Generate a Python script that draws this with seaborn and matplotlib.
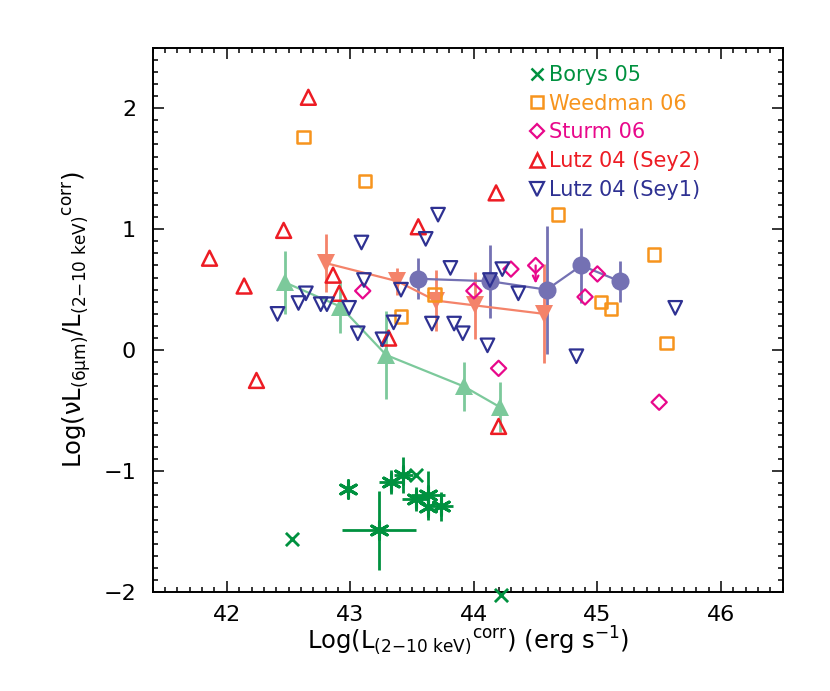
import matplotlib
matplotlib.use('Agg')
import matplotlib.pyplot as plt
import seaborn as sns
from matplotlib.lines import Line2D
from matplotlib.ticker import MultipleLocator

# Lutz 04 (Sey2) — открытые треугольники
sey2_x = [41.86, 42.14, 42.24, 42.46, 42.66, 42.86, 42.91, 43.31, 43.55, 44.18, 44.20]
sey2_y = [0.76, 0.53, -0.25, 0.99, 2.09, 0.62, 0.47, 0.10, 1.02, 1.30, -0.63]

# Lutz 04 (Sey1)
sey1_x = [42.41, 42.58, 42.64, 42.76, 42.81, 42.99, 43.06, 43.09, 43.11, 43.26, 43.35,
          43.41, 43.61, 43.66, 43.71, 43.81, 43.84, 43.91, 44.11, 44.13, 44.23, 44.36,
          44.83, 45.63]
sey1_y = [0.30, 0.39, 0.47, 0.38, 0.38, 0.35, 0.14, 0.89, 0.58, 0.09, 0.23,
          0.50, 0.92, 0.22, 1.12, 0.68, 0.22, 0.14, 0.04, 0.58, 0.67, 0.47,
          -0.05, 0.35]

# Weedman 06
weed_x = [42.62, 43.12, 43.41, 43.68, 44.68, 45.03, 45.11, 45.46, 45.56]
weed_y = [1.76, 1.40, 0.28, 0.46, 1.12, 0.40, 0.34, 0.79, 0.06]

# Sturm 06
sturm_x = [43.10, 44.00, 44.20, 44.30, 44.50, 44.90, 45.00, 45.50]
sturm_y = [0.49, 0.49, -0.15, 0.67, 0.70, 0.44, 0.63, -0.43]
sturm_lim_x = 44.50
sturm_lim_y = [0.70, 0.55]

# Borys 05: кресты и звездочки с ошибками
borys_x_cross = [42.53, 43.53, 44.22]
borys_y_cross = [-1.56, -1.03, -2.02]
borys_x = [42.98, 43.23, 43.33, 43.43, 43.53, 43.63, 43.63, 43.73]
borys_y = [-1.15, -1.49, -1.09, -1.03, -1.23, -1.20, -1.30, -1.29]
borys_xerr = [0.0, 0.30, 0.10, 0.08, 0.11, 0.14, 0.0, 0.10]
borys_yerr = [0.0, 0.33, 0.10, 0.15, 0.10, 0.20, 0.0, 0.12]

# Средние по бинам
bin_green_x = [42.47, 42.92, 43.29, 43.92, 44.21]
bin_green_y = [0.56, 0.36, -0.04, -0.30, -0.47]
bin_green_err = [0.26, 0.22, 0.36, 0.20, 0.21]

bin_salmon_x = [42.80, 43.38, 43.69, 44.01, 44.57]
bin_salmon_y = [0.72, 0.57, 0.41, 0.37, 0.30]
bin_salmon_err = [0.24, 0.11, 0.25, 0.28, 0.41]

bin_purple_x = [43.55, 44.13, 44.59, 44.87, 45.18]
bin_purple_y = [0.59, 0.57, 0.50, 0.70, 0.57]
bin_purple_err = [0.17, 0.30, 0.53, 0.31, 0.17]

C_GREEN = '#00913f'
C_ORANGE = '#f7941d'
C_MAGENTA = '#e8088b'
C_RED = '#ed1c24'
C_NAVY = '#2e3192'
C_BGREEN = '#7cc99b'
C_SALMON = '#f4836a'
C_PURPLE = '#7471b3'

sns.set_style('ticks')
plt.rcParams['font.family'] = ['DejaVu Sans']
plt.rcParams['mathtext.default'] = 'regular'
plt.rcParams['text.color'] = 'black'
plt.rcParams['axes.labelcolor'] = 'black'
plt.rcParams['xtick.color'] = 'black'
plt.rcParams['ytick.color'] = 'black'
plt.rcParams['axes.edgecolor'] = 'black'

fig = plt.figure(figsize=(8.3, 6.91), dpi=100)
ax = fig.add_axes([0.184, 0.143, 0.759, 0.788])

# Бины: линии, ошибки, маркеры
for bx, by, be, col, mk in [(bin_green_x, bin_green_y, bin_green_err, C_BGREEN, '^'),
                            (bin_salmon_x, bin_salmon_y, bin_salmon_err, C_SALMON, 'v'),
                            (bin_purple_x, bin_purple_y, bin_purple_err, C_PURPLE, 'o')]:
    ax.errorbar(bx, by, yerr=be, fmt='none', ecolor=col, elinewidth=2.0, capsize=0, zorder=1)
    sns.lineplot(x=bx, y=by, color=col, linewidth=1.6, marker=mk, markersize=13,
                 markeredgewidth=0, sort=False, ax=ax, zorder=2)

# Borys 05
ax.errorbar(borys_x, borys_y, xerr=borys_xerr, yerr=borys_yerr, fmt='none',
            ecolor=C_GREEN, elinewidth=2.0, capsize=0, zorder=3)
sns.scatterplot(x=borys_x, y=borys_y, marker=(6, 2, 0), s=160, color=C_GREEN,
                edgecolor=C_GREEN, linewidth=2.2, ax=ax, zorder=4)
sns.scatterplot(x=borys_x_cross, y=borys_y_cross, marker='x', s=90, color=C_GREEN,
                linewidth=2.0, ax=ax, zorder=4, clip_on=False)

# Открытые маркеры
sns.scatterplot(x=weed_x, y=weed_y, marker='s', s=80, facecolor='none',
                edgecolor=C_ORANGE, linewidth=1.8, ax=ax, zorder=5)
sns.scatterplot(x=sturm_x, y=sturm_y, marker='D', s=60, facecolor='none',
                edgecolor=C_MAGENTA, linewidth=1.6, ax=ax, zorder=5)
ax.annotate('', xy=(sturm_lim_x, sturm_lim_y[1]), xytext=(sturm_lim_x, sturm_lim_y[0]),
            arrowprops=dict(arrowstyle='->', color=C_MAGENTA, lw=1.6,
                            shrinkA=0, shrinkB=0, mutation_scale=10), zorder=5)
sns.scatterplot(x=sey2_x, y=sey2_y, marker='^', s=115, facecolor='none',
                edgecolor=C_RED, linewidth=1.8, ax=ax, zorder=6)
sns.scatterplot(x=sey1_x, y=sey1_y, marker='v', s=95, facecolor='none',
                edgecolor=C_NAVY, linewidth=1.6, ax=ax, zorder=6)

ax.set_xlim(41.4, 46.5)
ax.set_ylim(-2.0, 2.5)
ax.xaxis.set_major_locator(MultipleLocator(1))
ax.xaxis.set_minor_locator(MultipleLocator(0.1))
ax.yaxis.set_major_locator(MultipleLocator(1))
ax.yaxis.set_minor_locator(MultipleLocator(0.1))
ax.tick_params(which='both', direction='in', top=True, right=True, width=1.1, color='black')
ax.tick_params(which='major', length=8, labelsize=16)
ax.tick_params(axis='x', which='major', pad=9)
ax.tick_params(axis='y', which='major', pad=12)
ax.tick_params(which='minor', length=3.5)
for sp in ax.spines.values():
    sp.set_linewidth(1.4)
    sp.set_visible(True)

ax.set_xlabel(r'Log(L$_{(2{-}10\ keV)}$$^{corr}$) (erg s$^{-1}$)', fontsize=17.5, labelpad=0)
ax.set_ylabel(r'Log($\nu$L$_{(6\mu m)}$/L$_{(2{-}10\ keV)}$$^{corr}$)', fontsize=17.5, labelpad=7)

handles = [
    Line2D([], [], linestyle='none', marker='x', markersize=8, markeredgewidth=1.8, color=C_GREEN),
    Line2D([], [], linestyle='none', marker='s', markersize=8, markerfacecolor='none',
           markeredgewidth=1.8, color=C_ORANGE),
    Line2D([], [], linestyle='none', marker='D', markersize=7, markerfacecolor='none',
           markeredgewidth=1.6, color=C_MAGENTA),
    Line2D([], [], linestyle='none', marker='^', markersize=10, markerfacecolor='none',
           markeredgewidth=1.8, color=C_RED),
    Line2D([], [], linestyle='none', marker='v', markersize=10, markerfacecolor='none',
           markeredgewidth=1.6, color=C_NAVY),
]
labels = ['Borys 05', 'Weedman 06', 'Sturm 06', 'Lutz 04 (Sey2)', 'Lutz 04 (Sey1)']
ax.legend(handles, labels, loc='upper left', bbox_to_anchor=(0.575, 0.995), frameon=False,
          fontsize=15, handlelength=0.7, handletextpad=0.25, labelspacing=0.42,
          borderpad=0.2, labelcolor=[C_GREEN, C_ORANGE, C_MAGENTA, C_RED, C_NAVY])

fig.savefig('out.png', dpi=100)
